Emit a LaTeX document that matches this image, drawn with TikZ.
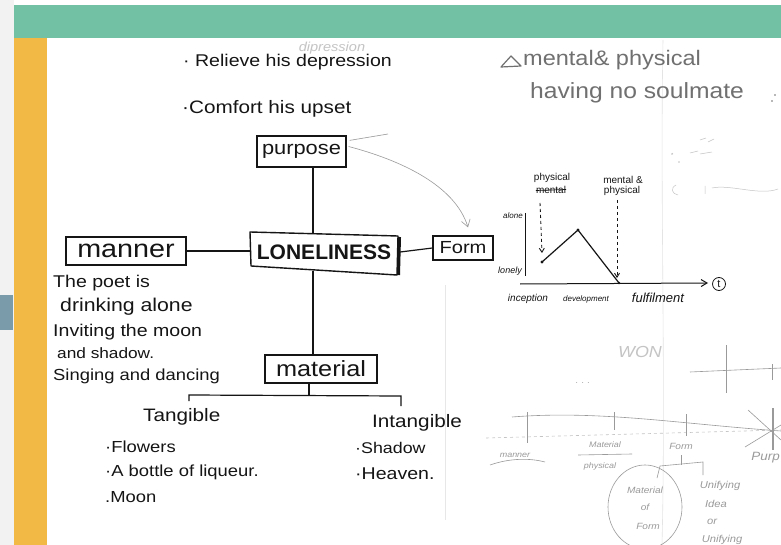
\documentclass[tikz,border=0pt]{standalone}
\usepackage{fontspec}
\setmainfont{Liberation Sans}
\newfontfamily\handfont{Liberation Sans}[FakeStretch=1.15]
\newfontfamily\pencilfont{Liberation Sans}[FakeStretch=1.12]
\usetikzlibrary{arrows.meta,calc}
\newcommand\fsz[1]{\fontsize{#1}{#1}\selectfont}

\definecolor{bandgreen}{HTML}{72C1A5}
\definecolor{sidebar}{HTML}{F2B944}
\definecolor{tabblue}{HTML}{7A9BAA}
\definecolor{sidegray}{HTML}{F2F2F2}
\definecolor{ink}{HTML}{151515}
\definecolor{pencil}{HTML}{707070}
\definecolor{faintink}{HTML}{9A9A9A}
\definecolor{ghost}{HTML}{C4C4C4}

\begin{document}
\begin{tikzpicture}[x=1pt,y=-1pt,
  box/.style={draw=ink, line width=1.2pt, inner sep=0pt, text=ink},
  hand/.style={inner sep=0pt, anchor=west, text=ink, font=\handfont\fsz{#1}},
  link/.style={draw=ink, line width=1.2pt},
  graph/.style={draw=ink, line width=1pt},
  glabel/.style={inner sep=0pt, text=ink, font=\fsz{#1}},
  gitlabel/.style={inner sep=0pt, text=ink, font=\itshape\fsz{#1}},
  penciltext/.style={inner sep=0pt, anchor=west, text=pencil, font=\pencilfont\fsz{#1}},
  sketch/.style={draw=faintink, line width=0.6pt},
  sketchtext/.style={inner sep=0pt, text=faintink, font=\pencilfont\itshape\fsz{#1}}]

% page, frame band and side bar
\useasboundingbox (0,0) rectangle (781,545);
\fill[white] (0,0) rectangle (781,545);
\fill[sidegray] (0,0) rectangle (14,545);
\fill[bandgreen] (14,5) rectangle (781,38);
\fill[sidebar] (14,38) rectangle (47,545);
\fill[tabblue] (0,295) rectangle (13,330);

% faint fold lines of the sheet
\draw[ghost!45, line width=0.6pt] (663,40) .. controls (660,200) and (666,380) .. (662,545);
\draw[ghost!40, line width=0.5pt] (445,285) -- (445,520);

% purpose notes
\node[inner sep=0pt, text=ghost, font=\pencilfont\itshape\fsz{13}] (ghostword) at (332,48) {dipression};
\node[hand=17] (relieve) at (183,62) {· Relieve his depression};
\node[hand=18] (comfort) at (182,109) {·Comfort his upset};

% mind map boxes
\node[box, minimum width=89pt, minimum height=31pt, font=\handfont\fsz{19}] (purpose) at (301.5,151.5) {purpose};
\node[inner sep=0pt, minimum width=148pt, minimum height=38pt, text=ink, font=\bfseries\fsz{21}] (lonely) at (324,252) {LONELINESS};
\draw[ink, line width=1.4pt, line join=round] (250,232) -- (398,236) -- (397,275) -- (251,266) -- cycle;
\draw[ink, line width=3pt] (399.5,237) -- (398.5,275);
\node[box, minimum width=120pt, minimum height=28pt, font=\handfont\fsz{25}] (manner) at (126,251) {manner};
\node[box, minimum width=60pt, minimum height=24pt, font=\handfont\fsz{17.5}] (form) at (463,248) {Form};
\node[box, minimum width=112pt, minimum height=28pt, font=\handfont\fsz{22}] (material) at (321,369) {material};

% connectors
\coordinate (spine) at (313,0);
\coordinate (brM) at (309,395);
\coordinate (brL) at (189,395);
\coordinate (brR) at (401,396);
\draw[link] (purpose.south -| spine) -- (lonely.north -| spine);
\draw[link] (lonely.south -| spine) -- (material.north -| spine);
\draw[link] (manner.east) -- (manner.east -| lonely.west);
\draw[link] ($(lonely.east)+(2,0)$) -- (form.west);
\draw[link] (material.south -| brM) -- (brM);
\draw[link] ($(brL)+(0,6)$) -- (brL) -- (brR) -- ($(brR)+(0,10)$);

% pencil arrow from purpose towards form
\draw[faintink, line width=0.6pt] ($(purpose.north east)+(3,5)$) -- (388,134);
\draw[faintink, line width=0.6pt, -{Straight Barb[length=7pt,width=9pt]}]
  ($(purpose.east)+(2,-5)$) .. controls (400,160) and (455,185) .. ($(form.north)+(5,-8)$);

% manner notes
\node[hand=17] (poet1) at (53,283) {The poet is};
\node[hand=18.5] (poet2) at (60,307) {drinking alone};
\node[hand=17] (poet3) at (53,332) {Inviting the moon};
\node[hand=15] (poet4) at (57,353) {and shadow.};
\node[hand=16] (poet5) at (53,376) {Singing and dancing};

% material branches
\node[hand=18] (tangible) at (143,417) {Tangible};
\node[hand=18] (intangible) at (372,423) {Intangible};
\node[hand=16] (flowers) at (105,447) {·Flowers};
\node[hand=16] (bottle) at (105,472) {·A bottle of liqueur.};
\node[hand=16] (moon) at (105,497) {.Moon};
\node[hand=15.5] (shadow) at (355,448) {·Shadow};
\node[hand=17] (heaven) at (355,474) {·Heaven.};

% form notes
\draw[pencil, line width=1.2pt, line join=round] (501,67) -- (511,56) -- (521,66) -- cycle;
\node[penciltext=21] (formnote1) at (523,60) {mental\& physical};
\node[penciltext=22] (formnote2) at (530,93) {having no soulmate};
\fill[pencil] (775,95) circle (0.9pt) (772,101) circle (0.8pt);

% loneliness curve
\coordinate (ytop) at (525,213);
\coordinate (ybot) at (525,276);
\coordinate (xstart) at (520,284);
\coordinate (xend) at (708,283);
\coordinate (p1) at (542,262);
\coordinate (p2) at (578,230);
\coordinate (p3) at (619,283);
\draw[graph] (ytop) -- (ybot);
\draw[graph, -{Straight Barb[length=6pt,width=7pt]}] (xstart) -- (xend);
\node[circle, draw=ink, line width=0.8pt, inner sep=0pt, minimum size=13pt, font=\fsz{11}, text=ink] (taxis) at (719,284) {t};
\draw[graph, line width=1.2pt] (p1) -- (p2) -- (p3);
\fill[ink] (p1) circle (1.6pt) (p2) circle (1.6pt) (p3) circle (1.4pt);
\node[glabel=10] (lphys) at (552,178) {physical};
\node[glabel=10] (lment) at (551,190) {mental};
\draw[ink, line width=0.7pt] ($(lment.west)+(0,0.5)$) -- ($(lment.east)+(0,-0.5)$);
\node[glabel=10] (rment) at (623,180) {mental \&};
\node[glabel=10] (rphys) at (622,191) {physical};
\draw[graph, line width=0.9pt, dashed, -{Straight Barb[length=4pt,width=5pt]}] (540,203) -- (p1 |- 0,253);
\draw[graph, line width=0.9pt, dashed, -{Straight Barb[length=4pt,width=5pt]}] (617,200) -- (617,278);
\node[gitlabel=8] (lalone) at (513,216) {alone};
\node[gitlabel=9] (llonely) at (510,271) {lonely};
\node[gitlabel=10] (linc) at (528,299) {inception};
\node[gitlabel=8] (ldev) at (586,299) {development};
\node[gitlabel=13] (lful) at (658,298) {fulfilment};

% small scribbles beside the curve
\draw[ghost, line width=0.5pt] (700,140) -- (706,138) (708,142) -- (714,139)
  (690,153) -- (698,151) (700,154) -- (712,152) (672,153) -- (673,154)
  (676,185) .. controls (670,188) and (672,194) .. (678,195)
  (705,186) -- (705,194) (712,188) .. controls (730,184) and (760,196) .. (778,189);
\fill[ghost] (672,154) circle (0.9pt) (679,162) circle (0.9pt);

% pencil outline sketch
\node[sketchtext=16, text=ghost] (won) at (640,352) {WON};
\node[sketchtext=8] (dots) at (583,383) {. . .};
\draw[sketch] (690,372) -- (781,368);
\draw[sketch] (726,345) -- (726,393);
\draw[sketch] (772,364) -- (772,380);
\draw[sketch] (512,417) .. controls (600,410) and (680,424) .. (781,431);
\draw[sketch, draw=ghost, dashed] (486,438) -- (781,430);
\draw[sketch] (527,412) -- (527,443);
\draw[sketch] (614,412) -- (614,430);
\draw[sketch] (686,414) -- (686,436);
\draw[sketch, line width=1.2pt] (773,408) -- (773,450);
\draw[sketch] (748,410) -- (781,440) (745,447) -- (781,425);
\node[sketchtext=8] (smanner) at (515,455) {manner};
\draw[sketch] (490,465) .. controls (510,458) and (530,458) .. (545,462);
\node[sketchtext=8] (smat) at (605,445) {Material};
\draw[sketch] (578,455) -- (632,454);
\node[sketchtext=8] (sphys) at (600,466) {physical};
\node[sketchtext=9] (sform) at (681,446) {Form};
\draw[sketch] (681,455) -- (681,465);
\draw[sketch] (657,478) -- (660,466) -- (703,462) -- (703,475);
\node[sketchtext=12, anchor=east] (spurp) at (780,458) {Purp};
\draw[sketch] (645,507) ellipse (37pt and 42pt);
\node[sketchtext=9] (sm1) at (645,490) {Material};
\node[sketchtext=9] (sm2) at (645,507) {of};
\node[sketchtext=9] (sm3) at (648,526) {Form};
\node[sketchtext=10] (su1) at (720,486) {Unifying};
\node[sketchtext=10] (su2) at (716,504) {Idea};
\node[sketchtext=10] (su3) at (712,522) {or};
\node[sketchtext=10] (su4) at (722,540) {Unifying};
\end{tikzpicture}
\end{document}
